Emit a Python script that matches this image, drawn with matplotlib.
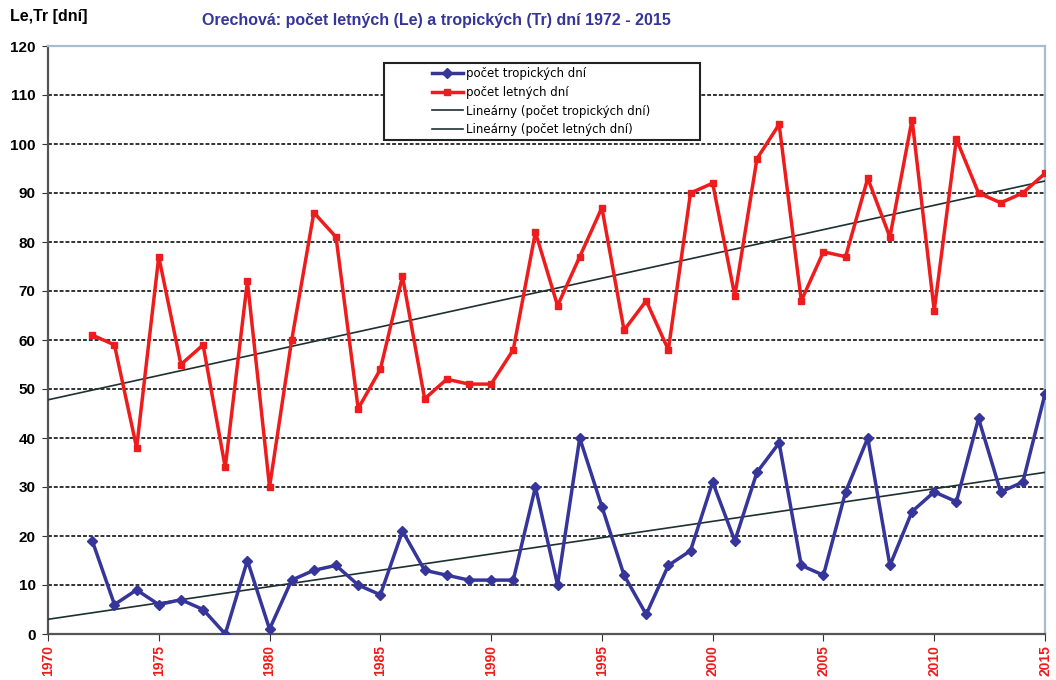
import numpy as np
import matplotlib
matplotlib.use('Agg')
import matplotlib.pyplot as plt
from matplotlib.ticker import MultipleLocator
from matplotlib.patches import Rectangle

years = list(range(1972, 2016))
letne = [61, 59, 38, 77, 55, 59, 34, 72, 30, 60, 86, 81, 46, 54, 73, 48, 52, 51, 51, 58,
         82, 67, 77, 87, 62, 68, 58, 90, 92, 69, 97, 104, 68, 78, 77, 93, 81, 105, 66, 101,
         90, 88, 90, 94]
tropicke = [19, 6, 9, 6, 7, 5, 0, 15, 1, 11, 13, 14, 10, 8, 21, 13, 12, 11, 11, 11,
            30, 10, 40, 26, 12, 4, 14, 17, 31, 19, 33, 39, 14, 12, 29, 40, 14, 25, 29, 27,
            44, 29, 31, 49]
trend_x = [1970, 2015]

W, H = 1056, 680
fig = plt.figure(figsize=(W / 100, H / 100), dpi=100)
ax = fig.add_axes([48 / W, 46 / H, 997 / W, 588 / H])

# linear trends (Excel style, extended back to 1970)
p_tr = np.polyfit(years, tropicke, 1)
p_le = np.polyfit(years, letne, 1)

ax.plot(years, tropicke, color='#35359a', lw=2.5, marker='D', ms=5, label='počet tropických dní', zorder=4)
ax.plot(years, letne, color='#ee1c1c', lw=2.5, marker='s', ms=5, label='počet letných dní', zorder=4)
ax.plot(trend_x, np.polyval(p_tr, trend_x), color='#1f3030', lw=1.2, label='Lineárny (počet tropických dní)', zorder=3)
ax.plot(trend_x, np.polyval(p_le, trend_x), color='#1f3030', lw=1.2, label='Lineárny (počet letných dní)', zorder=3)

ax.set_xlim(1970, 2015)
ax.set_ylim(0, 120)
ax.xaxis.set_major_locator(MultipleLocator(5))
ax.yaxis.set_major_locator(MultipleLocator(10))

ax.grid(axis='y', color='#333333', linestyle=(0, (2, 1)), lw=1.4)
ax.set_axisbelow(True)

for side in ['left', 'bottom']:
    ax.spines[side].set_color('#555555')
    ax.spines[side].set_linewidth(1.6)
for side in ['top', 'right']:
    ax.spines[side].set_color('#a8bccc')
    ax.spines[side].set_linewidth(1.6)

ax.tick_params(axis='x', direction='out', length=5, color='#333333', pad=3)
ax.tick_params(axis='y', direction='out', length=4, color='#333333', pad=5)
for lbl in ax.get_xticklabels():
    lbl.set_rotation(90)
    lbl.set_color('#ee1c1c')
    lbl.set_fontweight('bold')
    lbl.set_fontsize(10)
    lbl.set_family('Liberation Sans')
for lbl in ax.get_yticklabels():
    lbl.set_fontweight('bold')
    lbl.set_fontsize(11)
    lbl.set_family('Liberation Sans')

fig.text(10 / W, 1 - 16 / H, 'Le,Tr [dní]', fontsize=11.5, fontweight='bold', family='Liberation Sans', va='center')
fig.text(436 / W, 1 - 20 / H, 'Orechová: počet letných (Le) a tropických (Tr) dní 1972 - 2015',
         fontsize=11.5, fontweight='bold', color='#35359a', family='Liberation Sans', ha='center', va='center')

# legend box as in the original (wide frame, handles pushed right)
box = Rectangle((384 / W, 1 - 140 / H), 316 / W, 77 / H, transform=fig.transFigure,
                facecolor='white', edgecolor='#222222', lw=1.5, zorder=5)
ax.add_patch(box)
box.set_clip_on(False)
leg = ax.legend(loc='upper left', bbox_to_anchor=(432 / W, 1 - 67 / H), bbox_transform=fig.transFigure,
                fontsize=8.5, frameon=False, handlelength=2.6, borderpad=0, labelspacing=0.49,
                handletextpad=0.3, borderaxespad=0)
leg.set_zorder(6)

plt.savefig('out.png', dpi=100)
